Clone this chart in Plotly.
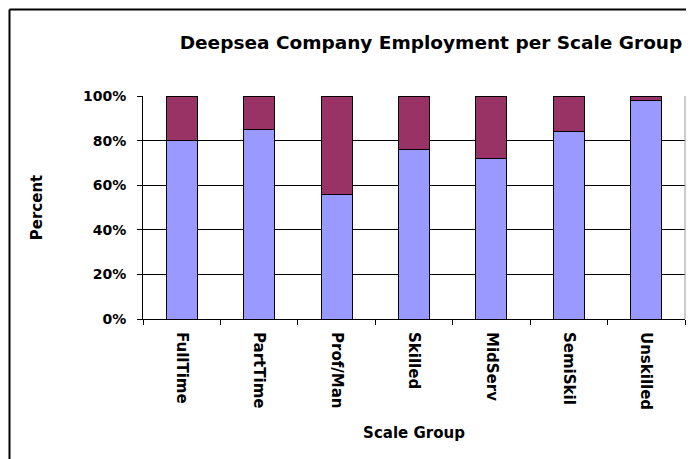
import plotly.graph_objects as go

categories = ["FullTime", "PartTime", "Prof/Man", "Skilled", "MidServ", "SemiSkil", "Unskilled"]
series_a = [80, 85, 56, 76, 72, 84, 98]
series_b = [20, 15, 44, 24, 28, 16, 2]
y_ticks = [0, 20, 40, 60, 80, 100]
y_tick_labels = ["0%", "20%", "40%", "60%", "80%", "100%"]

W, H = 694, 459
OFF = 8  # page body margin offset
# target plot area in screen pixels
SX0, SX1, SY0, SY1 = 143, 685, 96, 319
L = SX0 - OFF
T = SY0 - OFF
R = W - (SX1 - OFF)
B = H - (SY1 - OFF)
pw = W - L - R
ph = H - T - B

def px_x(x):
    return (x - OFF - L) / pw

def px_y(y):
    return (H - B - (y - OFF)) / ph

font = "DejaVu Sans"

fig = go.Figure()
fig.add_trace(go.Bar(x=categories, y=series_a, marker=dict(color="#9999FF", line=dict(color="black", width=1)), showlegend=False))
fig.add_trace(go.Bar(x=categories, y=series_b, marker=dict(color="#993366", line=dict(color="black", width=1)), showlegend=False))

fig.update_layout(
    width=W, height=H,
    margin=dict(l=L, r=R, t=T, b=B),
    barmode="stack", bargap=0.6,
    plot_bgcolor="white", paper_bgcolor="white",
    font=dict(family=font, color="black"),
    title=dict(text="<b>Deepsea Company Employment per Scale Group</b>", font=dict(size=18.5, family=font),
               x=px_x(431), xref="paper", xanchor="center", y=1 - (43 - OFF) / H, yanchor="middle"),
    xaxis=dict(showline=True, linecolor="black", linewidth=1, ticks="outside", ticklen=5, tickcolor="black",
               tickson="boundaries", tickangle=90, tickfont=dict(size=15, family=font, weight="bold"),
               ticklabelstandoff=9,
               title=dict(text="<b>Scale Group</b>", font=dict(size=15, family=font), standoff=18),
               showgrid=False),
    yaxis=dict(range=[0, 100], tickvals=y_ticks, ticktext=y_tick_labels, showline=True, linecolor="black", linewidth=1,
               ticks="outside", ticklen=5, tickcolor="black", showgrid=True, gridcolor="black", gridwidth=1,
               tickfont=dict(size=14, family=font, weight="bold"), ticklabelstandoff=8,
               title=dict(text="<b>Percent</b>", font=dict(size=15, family=font), standoff=36),
               zeroline=False),
)

# outer chart frame (left and top edges visible)
fig.add_shape(type="line", xref="paper", yref="paper", x0=px_x(9.5), x1=px_x(9.5), y0=px_y(9.5), y1=px_y(480),
              line=dict(color="black", width=2))
fig.add_shape(type="line", xref="paper", yref="paper", x0=px_x(9.5), x1=px_x(720), y0=px_y(9.5), y1=px_y(9.5),
              line=dict(color="black", width=2))
# right plot-area edge
fig.add_shape(type="line", xref="paper", yref="paper", x0=1, x1=1, y0=0, y1=1, line=dict(color="#999999", width=1))

fig.write_html("out.html")
